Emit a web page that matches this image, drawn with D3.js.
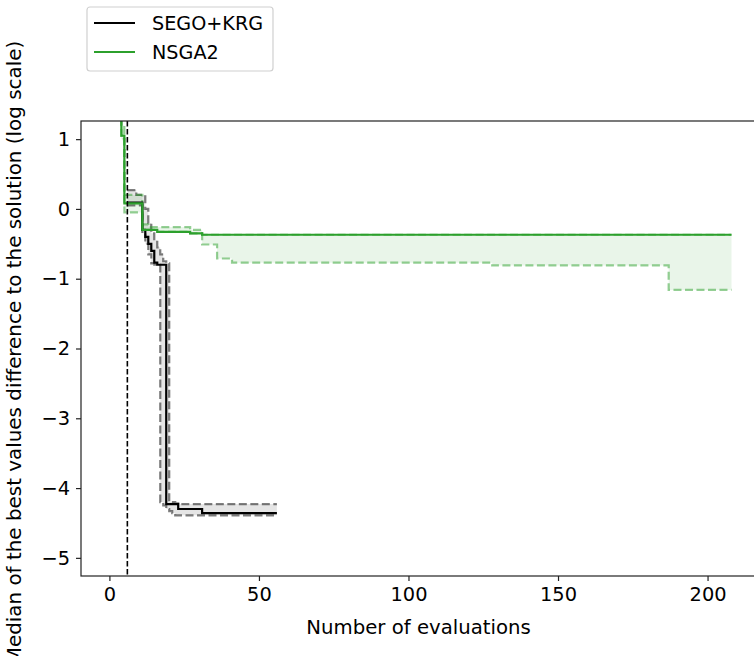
<!DOCTYPE html>
<html lang="en">

<head>
    <meta charset="UTF-8">
    <title>Convergence</title>
    <script src="https://cdn.jsdelivr.net/npm/d3@7"></script>
    <style>
        body {
            margin: 0;
            background: white;
        }

        text {
            font-family: "DejaVu Sans", sans-serif;
            fill: #000;
        }
    </style>
</head>

<body>
    <div id="chart"></div>

    <script>
        // evaluation numbers where the step curves change (SEGO+KRG)
        const segoX = [6, 9, 11, 12, 13, 14, 15, 16, 17, 18, 19, 20, 21, 22, 23, 31, 56];
        const segoMedian = [0.09, 0.09, -0.3, -0.4, -0.5, -0.6, -0.77, -0.8, -0.8, -0.8, -4.23, -4.23, -4.23, -4.23, -4.3, -4.36, -4.36];
        const segoUpper = [0.27, 0.2, 0.2, 0.0, -0.2, -0.35, -0.45, -0.55, -0.65, -0.75, -0.78, -4.2, -4.2, -4.22, -4.23, -4.23, -4.23];
        const segoLower = [0.05, 0.05, -0.35, -0.5, -0.65, -0.78, -0.8, -0.8, -4.2, -4.25, -4.3, -4.33, -4.36, -4.39, -4.39, -4.39, -4.39];

        // NSGA2
        const nsgaX = [1, 4, 5, 10, 11, 13, 16, 27, 31, 36, 41, 128, 187, 208];
        const nsgaMedian = [2.5, 1.05, 0.08, 0.08, -0.3, -0.3, -0.33, -0.35, -0.37, -0.37, -0.37, -0.37, -0.37, -0.37];
        const nsgaUpper = [2.5, 1.2, 0.2, 0.2, -0.22, -0.26, -0.26, -0.3, -0.37, -0.37, -0.37, -0.37, -0.37, -0.37];
        const nsgaLower = [2.5, 1.0, -0.05, -0.05, -0.3, -0.3, -0.33, -0.35, -0.51, -0.71, -0.77, -0.81, -1.16, -1.16];

        const initialDoe = 6;
        const xTicks = [0, 50, 100, 150, 200];
        const yTicks = [-5, -4, -3, -2, -1, 0, 1];
        const legendNames = ["SEGO+KRG", "NSGA2"];

        (() => {
            const width = 754;
            const height = 656;
            const m = { left: 81, top: 121, right: 756, bottom: 576 };
            const green = "#2ca02c";

            const svg = d3.select("#chart").append("svg")
                .attr("width", width)
                .attr("height", height);

            const x = d3.scaleLinear().domain([-9.5, 216.2]).range([m.left, m.right]);
            const y = d3.scaleLinear().domain([-5.26, 1.26]).range([m.bottom, m.top]);

            svg.append("clipPath").attr("id", "plot")
                .append("rect")
                .attr("x", m.left).attr("y", m.top)
                .attr("width", m.right - m.left).attr("height", m.bottom - m.top);

            const g = svg.append("g").attr("clip-path", "url(#plot)");

            const line = d3.line()
                .x(d => x(d[0])).y(d => y(d[1]))
                .curve(d3.curveStepAfter);
            const area = d3.area()
                .x(d => x(d[0])).y0(d => y(d[1])).y1(d => y(d[2]))
                .curve(d3.curveStepAfter);

            const zip = (xs, ys) => xs.map((v, i) => [v, ys[i]]);
            const band = (xs, lo, hi) => xs.map((v, i) => [v, lo[i], hi[i]]);

            // shaded bands
            g.append("path")
                .attr("d", area(band(segoX, segoLower, segoUpper)))
                .attr("fill", "#000").attr("fill-opacity", 0.1);
            g.append("path")
                .attr("d", area(band(nsgaX, nsgaLower, nsgaUpper)))
                .attr("fill", green).attr("fill-opacity", 0.1);

            // quartile dashed lines
            [[segoX, segoUpper, "#000"], [segoX, segoLower, "#000"],
             [nsgaX, nsgaUpper, green], [nsgaX, nsgaLower, green]].forEach(([xs, ys, c]) => {
                g.append("path")
                    .attr("d", line(zip(xs, ys)))
                    .attr("fill", "none")
                    .attr("stroke", c)
                    .attr("stroke-opacity", 0.5)
                    .attr("stroke-width", 2.2)
                    .attr("stroke-dasharray", "8,3.5");
            });

            // medians
            g.append("path")
                .attr("d", line(zip(segoX, segoMedian)))
                .attr("fill", "none").attr("stroke", "#000").attr("stroke-width", 2.2);
            g.append("path")
                .attr("d", line(zip(nsgaX, nsgaMedian)))
                .attr("fill", "none").attr("stroke", green).attr("stroke-width", 2.2);

            // end of initial DOE
            g.append("line")
                .attr("x1", x(initialDoe)).attr("x2", x(initialDoe))
                .attr("y1", m.top).attr("y2", m.bottom)
                .attr("stroke", "#000").attr("stroke-width", 1.6)
                .attr("stroke-dasharray", "5.5,2.5");

            // axes
            const fmt = d => d < 0 ? "\u2212" + Math.abs(d) : String(d);
            const xAxis = svg.append("g")
                .attr("transform", `translate(0,${m.bottom})`)
                .call(d3.axisBottom(x).tickValues(xTicks).tickFormat(fmt).tickSize(5).tickPadding(6));
            const yAxis = svg.append("g")
                .attr("transform", `translate(${m.left},0)`)
                .call(d3.axisLeft(y).tickValues(yTicks).tickFormat(fmt).tickSize(5).tickPadding(6));
            [xAxis, yAxis].forEach(a => {
                a.select(".domain").remove();
                a.selectAll("text").attr("font-size", 19.4).attr("font-family", "DejaVu Sans").attr("fill", "#000");
                a.selectAll("line").attr("stroke", "#222").attr("stroke-width", 1.2);
            });

            // spines
            svg.append("rect")
                .attr("x", m.left).attr("y", m.top)
                .attr("width", m.right - m.left).attr("height", m.bottom - m.top)
                .attr("fill", "none").attr("stroke", "#222").attr("stroke-width", 1.2);

            svg.append("text")
                .attr("x", (m.left + m.right) / 2).attr("y", 634)
                .attr("text-anchor", "middle").attr("font-size", 19.7)
                .text("Number of evaluations");
            svg.append("text")
                .attr("transform", `translate(21,${(m.top + m.bottom) / 2 + 4}) rotate(-90)`)
                .attr("text-anchor", "middle").attr("font-size", 19.9)
                .text("Median of the best values difference to the solution (log scale)");

            // legend
            const lg = svg.append("g");
            lg.append("rect")
                .attr("x", 87).attr("y", 7).attr("width", 186).attr("height", 64)
                .attr("rx", 3).attr("fill", "white").attr("stroke", "#d0d0d0").attr("stroke-width", 1.2);
            legendNames.forEach((name, i) => {
                const yy = 23 + i * 29;
                lg.append("line")
                    .attr("x1", 94).attr("x2", 135).attr("y1", yy).attr("y2", yy)
                    .attr("stroke", i === 0 ? "#000" : green).attr("stroke-width", 2.2);
                lg.append("text")
                    .attr("x", 152).attr("y", yy + 7)
                    .attr("font-size", 19.2)
                    .text(name);
            });
        })()
    </script>
</body>

</html>
